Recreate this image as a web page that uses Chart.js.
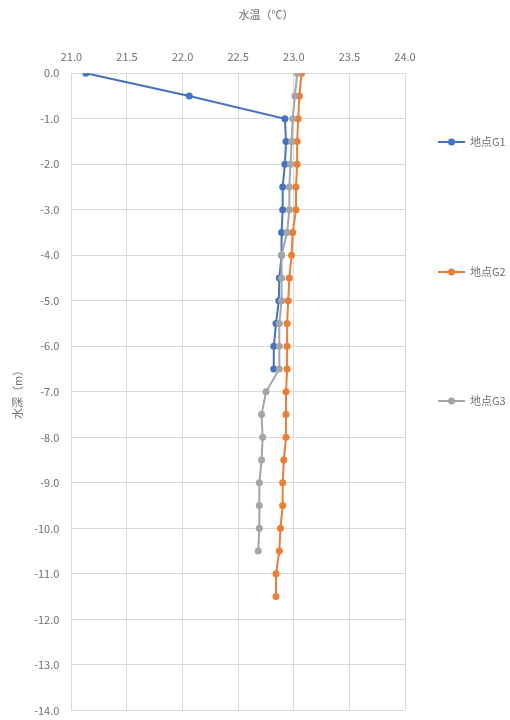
<!DOCTYPE html>
<html>
<head>
<meta charset="utf-8">
<script src="https://cdn.jsdelivr.net/npm/chart.js@4"></script>
<style>
html,body{margin:0;padding:0;background:#fff;}
#wrap{position:relative;width:510px;height:720px;}
</style>
</head>
<body>
<div id="wrap"><canvas id="c" width="510" height="720"></canvas></div>
<script>
const xTitle = '水温（℃）';
const yTitle = '水深（m）';
const seriesNames = ['地点G1', '地点G2', '地点G3'];
const seriesColors = ['#4472C4', '#ED7D31', '#A5A5A5'];

const depthsG1 = [0, -0.5, -1, -1.5, -2, -2.5, -3, -3.5, -4, -4.5, -5, -5.5, -6, -6.5];
const tempsG1 = [21.13, 22.06, 22.92, 22.93, 22.92, 22.90, 22.90, 22.89, 22.89, 22.87, 22.865, 22.84, 22.82, 22.82];

const depthsG2 = [0, -0.5, -1, -1.5, -2, -2.5, -3, -3.5, -4, -4.5, -5, -5.5, -6, -6.5, -7, -7.5, -8, -8.5, -9, -9.5, -10, -10.5, -11, -11.5];
const tempsG2 = [23.07, 23.05, 23.04, 23.03, 23.03, 23.02, 23.02, 22.99, 22.98, 22.96, 22.95, 22.94, 22.94, 22.94, 22.93, 22.93, 22.93, 22.91, 22.90, 22.90, 22.88, 22.87, 22.84, 22.84];

const depthsG3 = [0, -0.5, -1, -1.5, -2, -2.5, -3, -3.5, -4, -4.5, -5, -5.5, -6, -6.5, -7, -7.5, -8, -8.5, -9, -9.5, -10, -10.5];
const tempsG3 = [23.03, 23.01, 22.99, 22.98, 22.97, 22.96, 22.96, 22.94, 22.89, 22.89, 22.89, 22.87, 22.87, 22.87, 22.75, 22.71, 22.72, 22.71, 22.69, 22.69, 22.69, 22.68];

const xTickMin = 21.0, xTickMax = 24.0, xTickStep = 0.5;
const yTickMin = -14.0, yTickMax = 0.0, yTickStep = 1.0;

const FONT = '"Noto Sans CJK JP", "Noto Sans", sans-serif';
const TEXT = '#707070';
const GRID = '#d9d9d9';

function pts(xs, ys){ return xs.map((x,i)=>({x:x, y:ys[i]})); }
const allTemps = [tempsG1, tempsG2, tempsG3];
const allDepths = [depthsG1, depthsG2, depthsG3];

const datasets = seriesNames.map((n,i)=>({
  label: n,
  data: pts(allTemps[i], allDepths[i]),
  showLine: true,
  borderColor: seriesColors[i],
  backgroundColor: seriesColors[i],
  borderWidth: 2,
  pointRadius: 3.5,
  pointHoverRadius: 3.5,
  pointBorderWidth: 0,
  tension: 0
}));
datasets.reverse();

const decor = {
  id: 'decor',
  afterDraw(chart){
    const ctx = chart.ctx;
    ctx.save();
    ctx.fillStyle = TEXT;
    ctx.font = '11px ' + FONT;
    ctx.textAlign = 'center';
    ctx.textBaseline = 'middle';
    ctx.fillText(xTitle, 266, 15);
    const ys = [142, 272, 401];
    seriesNames.forEach((n,i)=>{
      const y = ys[i];
      ctx.strokeStyle = seriesColors[i];
      ctx.lineWidth = 2;
      ctx.beginPath(); ctx.moveTo(438, y); ctx.lineTo(465, y); ctx.stroke();
      ctx.fillStyle = seriesColors[i];
      ctx.beginPath(); ctx.arc(451.5, y, 3.5, 0, Math.PI*2); ctx.fill();
      ctx.fillStyle = TEXT;
      ctx.textAlign = 'left';
      ctx.font = '11px ' + FONT;
      ctx.fillText(n, 470, y);
    });
    ctx.restore();
  }
};

new Chart(document.getElementById('c'), {
  type: 'scatter',
  data: { datasets: datasets },
  options: {
    responsive: false,
    animation: false,
    devicePixelRatio: 1,
    layout: { padding: { top: 40, right: 105, bottom: 0, left: 9 } },
    plugins: { legend: { display: false }, tooltip: { enabled: false }, title: { display: false } },
    scales: {
      x: {
        type: 'linear', position: 'top',
        min: xTickMin, max: xTickMax,
        ticks: { stepSize: xTickStep, color: TEXT, font: { family: FONT, size: 11 }, padding: 10,
          callback: v => Number(v).toFixed(1) },
        grid: { color: GRID, lineWidth: 1, drawTicks: false },
        border: { color: GRID }
      },
      y: {
        type: 'linear',
        min: yTickMin, max: yTickMax,
        ticks: { stepSize: yTickStep, color: TEXT, font: { family: FONT, size: 11 }, padding: 3,
          callback: v => Number(v).toFixed(1) },
        grid: { color: GRID, lineWidth: 1, drawTicks: true, tickLength: 9, tickColor: 'rgba(0,0,0,0)' },
        border: { color: GRID },
        title: { display: true, text: yTitle, color: TEXT, font: { family: FONT, size: 11 }, padding: { top: 2, bottom: 7 } }
      }
    }
  },
  plugins: [decor]
});
</script>
</body>
</html>
